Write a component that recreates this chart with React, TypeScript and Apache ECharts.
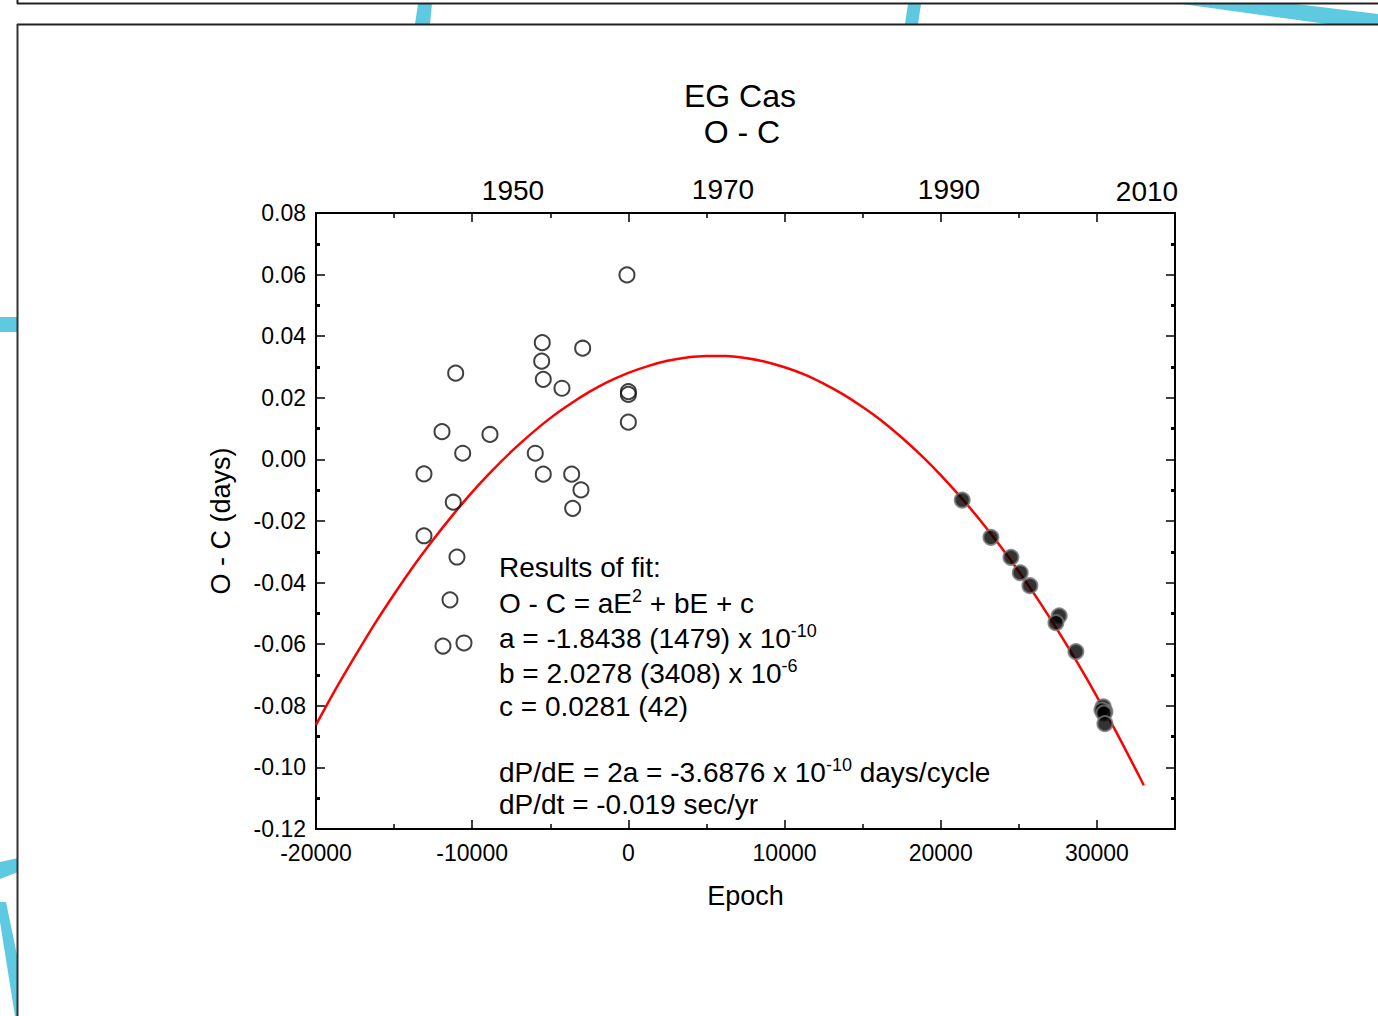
import React, { useEffect, useRef } from 'react';
import * as echarts from 'echarts';

// ---- data ----
const TITLE_LINES = ['EG Cas', 'O - C'];
const YEAR_LABELS = ['1950', '1970', '1990', '2010'];
const X_NAME = 'Epoch';
const Y_NAME = 'O - C (days)';

// open circles (older timings)
const OLD_EPOCH = [-11057, -5512, -5550, -5448, -2926, -4251, 0, 0, 0, -11933, -8861, -10608, -13086, -5960, -5448, -3630, -3035, -3566, -11210, -13086, -90, -10973, -11421, -11869, -10525];
const OLD_OC = [0.0280, 0.0379, 0.0319, 0.0260, 0.0361, 0.0231, 0.0220, 0.0211, 0.0121, 0.0090, 0.0081, 0.0020, -0.0047, 0.0020, -0.0048, -0.0048, -0.0099, -0.0159, -0.0139, -0.0248, 0.0599, -0.0317, -0.0456, -0.0606, -0.0596];

// filled circles (recent timings)
const NEW_EPOCH = [21376, 23214, 24494, 25089, 25710, 27586, 27375, 28655, 30403, 30512, 30320, 30450, 30512];
const NEW_OC = [-0.0132, -0.0253, -0.0318, -0.0368, -0.0410, -0.0508, -0.0530, -0.0624, -0.0803, -0.0819, -0.0814, -0.0824, -0.0858];

// fitted parabola
const FIT_EPOCH = [-20000, -18750, -17500, -16250, -15000, -13750, -12500, -11250, -10000, -8750, -7500, -6250, -5000, -3750, -2500, -1250, 0, 1250, 2500, 3750, 5000, 6250, 7500, 8750, 10000, 11250, 12500, 13750, 15000, 16250, 17500, 18750, 20000, 21250, 22500, 23750, 25000, 26250, 27500, 28750, 30000, 31250, 32500, 33000];
const FIT_OC = [-0.0862, -0.0747, -0.0639, -0.0535, -0.0438, -0.0346, -0.0261, -0.0181, -0.0106, -0.0038, 0.0025, 0.0082, 0.0134, 0.0179, 0.0219, 0.0253, 0.0281, 0.0303, 0.0320, 0.0331, 0.0336, 0.0336, 0.0329, 0.0317, 0.0299, 0.0276, 0.0246, 0.0211, 0.0170, 0.0124, 0.0071, 0.0013, -0.0051, -0.0121, -0.0196, -0.0277, -0.0364, -0.0457, -0.0556, -0.0660, -0.0770, -0.0886, -0.1008, -0.1058];

const FIT_TEXT = [
  '{n|Results of fit:}',
  '{n|O - C = aE}{s|2}{n| + bE + c}',
  '{n|a = -1.8438 (1479) x 10}{s|-10}',
  '{n|b = 2.0278 (3408) x 10}{s|-6}',
  '{n|c = 0.0281 (42)}',
  '{n|dP/dE = 2a = -3.6876 x 10}{s|-10}{n| days/cycle}',
  '{n|dP/dt = -0.019 sec/yr}',
];

const FONT = '"Liberation Sans", Arial, Helvetica, sans-serif';
const CYAN = '#5ecae1';

export default function App() {
  const ref = useRef<HTMLDivElement>(null);
  useEffect(() => {
    if (!ref.current) return;
    const chart = echarts.init(ref.current, null, { renderer: 'svg' });

    const yearPos = [[513, 190], [723, 189], [949, 189], [1147, 191]];
    const fitY = [567, 603, 638, 673, 706, 772, 804];

    const graphic: any[] = [
      // decorative background frame pieces
      { type: 'polygon', silent: true, z: 0, shape: { points: [[415, 24], [430, 24], [432, 4], [418, 4]] }, style: { fill: CYAN } },
      { type: 'polygon', silent: true, z: 0, shape: { points: [[905, 24], [918, 24], [921, 4], [908, 4]] }, style: { fill: CYAN } },
      { type: 'polygon', silent: true, z: 0, shape: { points: [[1182, 4], [1296, 4], [1378, 14], [1378, 24], [1327, 24]] }, style: { fill: CYAN } },
      { type: 'rect', silent: true, z: 0, shape: { x: 0, y: 317, width: 18, height: 15 }, style: { fill: CYAN } },
      { type: 'polygon', silent: true, z: 0, shape: { points: [[0, 862], [18, 858], [18, 872], [0, 879]] }, style: { fill: CYAN } },
      { type: 'polygon', silent: true, z: 0, shape: { points: [[0, 902], [6, 902], [18, 960], [18, 1016], [15, 1016], [0, 922]] }, style: { fill: CYAN } },
      { type: 'line', silent: true, z: 1, shape: { x1: 17, y1: 3.5, x2: 1378, y2: 3.5 }, style: { stroke: '#222', lineWidth: 2 } },
      { type: 'line', silent: true, z: 1, shape: { x1: 17.5, y1: 0, x2: 17.5, y2: 4 }, style: { stroke: '#222', lineWidth: 2 } },
      { type: 'line', silent: true, z: 1, shape: { x1: 17, y1: 24.5, x2: 1378, y2: 24.5 }, style: { stroke: '#222', lineWidth: 2 } },
      { type: 'line', silent: true, z: 1, shape: { x1: 17.5, y1: 24, x2: 17.5, y2: 1016 }, style: { stroke: '#333', lineWidth: 2 } },
      // title
      { type: 'text', x: 740, y: 96, style: { text: TITLE_LINES[0], font: `32px ${FONT}`, fill: '#000', align: 'center', verticalAlign: 'middle' } },
      { type: 'text', x: 742, y: 132, style: { text: TITLE_LINES[1], font: `32px ${FONT}`, fill: '#000', align: 'center', verticalAlign: 'middle' } },
    ];
    YEAR_LABELS.forEach((t, i) => {
      graphic.push({ type: 'text', x: yearPos[i][0], y: yearPos[i][1], style: { text: t, font: `28px ${FONT}`, fill: '#000', align: 'center', verticalAlign: 'middle' } });
    });
    FIT_TEXT.forEach((t, i) => {
      graphic.push({
        type: 'text', x: 499, y: fitY[i], z: 10,
        style: {
          text: t, align: 'left', verticalAlign: 'middle',
          rich: {
            n: { fontSize: 28, fontFamily: FONT, fill: '#000', color: '#000', lineHeight: 32 },
            s: { fontSize: 18, fontFamily: FONT, fill: '#000', color: '#000', verticalAlign: 'top', lineHeight: 18 },
          },
        },
      });
    });

    const axisLineStyle = { color: '#000', width: 2 };
    const xCommon = {
      type: 'value', min: -20000, max: 35000, interval: 10000,
      axisLine: { show: true, onZero: false, lineStyle: axisLineStyle },
      axisTick: { show: true, inside: true, length: 9, lineStyle: { color: '#000', width: 1.5 } },
      minorTick: { show: true, splitNumber: 2, length: 5, lineStyle: { color: '#000', width: 1.5 } },
      splitLine: { show: false },
    };
    const yCommon = {
      type: 'value', min: -0.12, max: 0.08, interval: 0.02,
      axisLine: { show: true, onZero: false, lineStyle: axisLineStyle },
      axisTick: { show: true, inside: true, length: 9, lineStyle: { color: '#000', width: 1.5 } },
      minorTick: { show: true, splitNumber: 2, length: 4, lineStyle: { color: '#000', width: 3 } },
      splitLine: { show: false },
    };

    chart.setOption({
      animation: false,
      backgroundColor: '#fff',
      textStyle: { fontFamily: FONT },
      grid: { left: 316, right: 203, top: 213, bottom: 187, containLabel: false },
      xAxis: [
        {
          ...xCommon, position: 'bottom',
          name: X_NAME, nameLocation: 'middle', nameGap: 53,
          nameTextStyle: { fontSize: 27, fontFamily: FONT, color: '#000' },
          axisLabel: {
            show: true, margin: 12, fontSize: 23, fontFamily: FONT, color: '#000',
            formatter: (v: number) => (v > 30000 ? '' : String(Math.round(v))),
          },
        },
        { ...xCommon, position: 'top', axisLabel: { show: false } },
      ],
      yAxis: [
        {
          ...yCommon, position: 'left',
          name: Y_NAME, nameLocation: 'middle', nameGap: 82, nameRotate: 90,
          nameTextStyle: { fontSize: 27, fontFamily: FONT, color: '#000' },
          axisLabel: {
            show: true, margin: 10, fontSize: 23, fontFamily: FONT, color: '#000',
            formatter: (v: number) => (Math.abs(v) < 1e-9 ? 0 : v).toFixed(2),
          },
        },
        { ...yCommon, position: 'right', axisLabel: { show: false } },
      ],
      graphic,
      series: [
        {
          type: 'line', name: 'fit', xAxisIndex: 0, yAxisIndex: 0,
          data: FIT_EPOCH.map((e, i) => [e, FIT_OC[i]]),
          smooth: 0.3, showSymbol: false, symbol: 'none',
          lineStyle: { color: '#ff0000', width: 2.5 }, z: 2, silent: true,
        },
        {
          type: 'scatter', name: 'old', xAxisIndex: 0, yAxisIndex: 0,
          data: OLD_EPOCH.map((e, i) => [e, OLD_OC[i]]),
          symbol: 'circle', symbolSize: 15,
          itemStyle: { color: 'rgba(255,255,255,0)', borderColor: '#111', borderWidth: 2 }, z: 3,
        },
        {
          type: 'scatter', name: 'new', xAxisIndex: 0, yAxisIndex: 0,
          data: NEW_EPOCH.map((e, i) => [e, NEW_OC[i]]),
          symbol: 'circle', symbolSize: 15,
          itemStyle: { color: '#000', borderColor: '#777', borderWidth: 2 }, z: 3,
        },
      ],
    });
    return () => chart.dispose();
  }, []);
  return <div ref={ref} style={{ position: 'fixed', left: 0, top: 0, width: 1378, height: 1016, background: '#fff' }} />;
}
